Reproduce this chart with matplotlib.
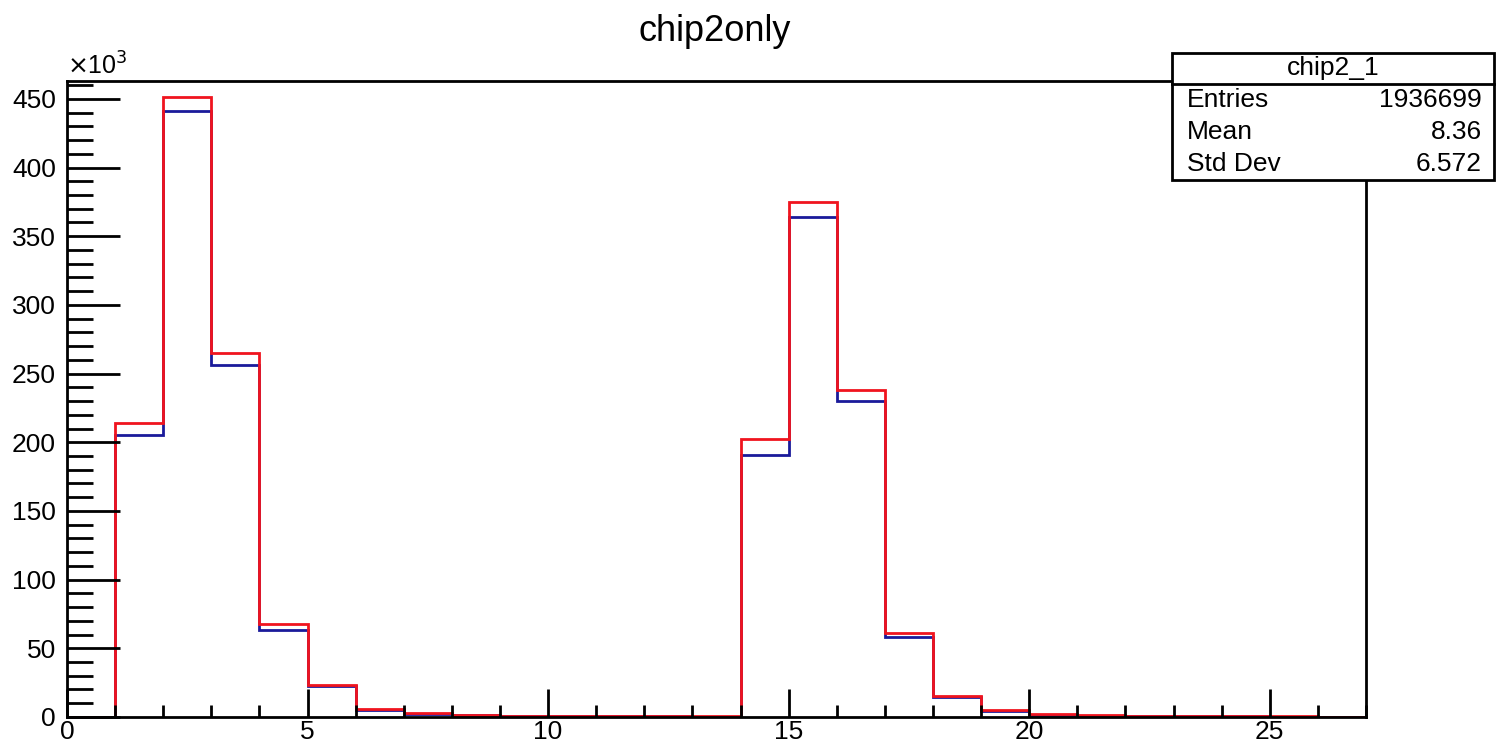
import numpy as np
import matplotlib.pyplot as plt
from matplotlib.ticker import MultipleLocator

# ****** Data (counts in units of 10^3, one bin per unit from 0 to 27) ******
bin_edges = np.arange(0, 28)
chip2_1 = [0, 214, 451, 265, 68, 23.5, 6, 3, 1.5, 1, 0.8, 0.6, 0.5, 0.4,
           202, 375, 238, 61, 15.5, 5, 2, 1.2, 0.9, 0.7, 0.5, 0.4, 0.3]
chip2_0 = [0, 205, 441, 256, 63, 22.5, 5, 2.5, 1.2, 0.8, 0.6, 0.5, 0.4, 0.3,
           191, 364, 230, 58, 14.5, 4.5, 1.7, 1.0, 0.8, 0.6, 0.4, 0.3, 0.2]
stats_title = 'chip2_1'
stats_rows = [('Entries', '1936699'), ('Mean', '8.36'), ('Std Dev', '6.572')]

plt.rcParams['font.family'] = ['Liberation Sans', 'DejaVu Sans']

fig = plt.figure(figsize=(14.98, 7.47), dpi=100)
ax = fig.add_axes([0.0447, 0.0402, 0.8672, 0.8514])

ax.stairs(chip2_0, bin_edges, color='#1a1a9a', linewidth=2)
ax.stairs(chip2_1, bin_edges, color='#f0141e', linewidth=2)

ax.set_xlim(0, 27)
ax.set_ylim(0, 463)
ax.xaxis.set_major_locator(MultipleLocator(5))
ax.xaxis.set_minor_locator(MultipleLocator(1))
ax.yaxis.set_major_locator(MultipleLocator(50))
ax.yaxis.set_minor_locator(MultipleLocator(10))
ax.tick_params(which='both', direction='in', top=False, right=False, width=2,
               labelsize=19, color='black')
ax.tick_params(axis='y', which='major', length=38, pad=8)
ax.tick_params(axis='y', which='minor', length=19)
ax.tick_params(axis='x', which='major', length=20, pad=2)
ax.tick_params(axis='x', which='minor', length=9)
for sp in ax.spines.values():
    sp.set_linewidth(2)

fig.text(0.0447, 0.893, r'$\times$10$^{3}$', fontsize=18, ha='left', va='bottom')
fig.text(0.477, 0.958, 'chip2only', fontsize=26, ha='center', va='center')

# --- Stats box
bx0, bx1 = 1172 / 1498, 1494 / 1498
by0, by1 = 1 - 180 / 747, 1 - 53 / 747
ysep = 1 - 84 / 747
box = plt.Rectangle((bx0, by0), bx1 - bx0, by1 - by0, transform=fig.transFigure,
                    facecolor='white', edgecolor='black', linewidth=2, zorder=5)
fig.add_artist(box)
fig.add_artist(plt.Line2D([bx0, bx1], [ysep, ysep], transform=fig.transFigure,
                          color='black', linewidth=2, zorder=6))
fig.text((bx0 + bx1) / 2, (ysep + by1) / 2, stats_title, fontsize=19,
         ha='center', va='center', zorder=7)
row_h = (ysep - by0) / len(stats_rows)
for i, (name, val) in enumerate(stats_rows):
    yy = ysep - (i + 0.5) * row_h
    fig.text(bx0 + 0.01, yy, name, fontsize=19, ha='left', va='center', zorder=7)
    fig.text(bx1 - 0.008, yy, val, fontsize=19, ha='right', va='center', zorder=7)

fig.savefig('out.png', dpi=100)
